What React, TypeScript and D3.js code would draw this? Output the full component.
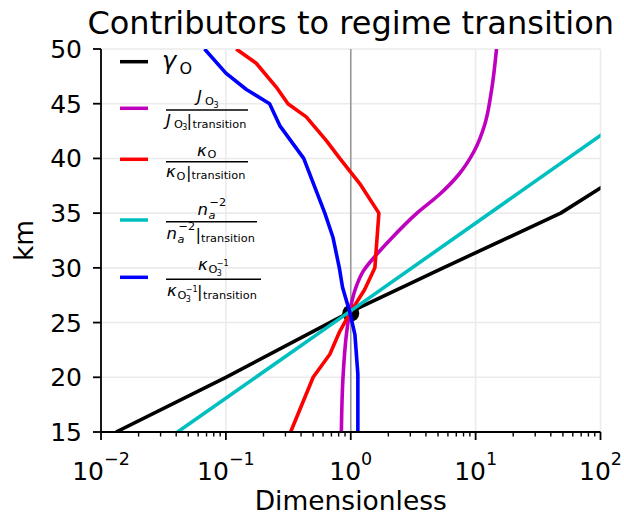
import React from "react";
import * as d3 from "d3";

// ---- data (km, dimensionless value) ----
const blackKm = [15, 20, 26, 30, 35, 37.3, 40];
const blackVal = [0.0132, 0.1, 1.0, 5.5, 48, 100, 230];

const magentaKm = [15, 20, 24, 26, 28, 29.7, 31.25, 32.5, 35, 36.7, 38.6, 40.7, 43.2, 46.2, 50];
const magentaVal = [0.841, 0.867, 0.925, 0.982, 1.084, 1.26, 1.62, 2.04, 3.39, 5.13, 7.41, 9.77, 11.9, 13.4, 14.7];

const redKm = [15, 20, 22.1, 24.2, 26, 28, 30, 35, 37.7, 40, 41.6, 43.8, 45, 46.5, 48.7, 50];
const redVal = [0.33, 0.5, 0.68, 0.817, 1.0, 1.29, 1.56, 1.68, 1.18, 0.817, 0.64, 0.44, 0.314, 0.254, 0.175, 0.121];

const cyanKm = [15, 26, 42.1, 46];
const cyanVal = [0.041, 0.98, 100, 310];

const blueKm = [15, 20.3, 23.9, 26, 28.2, 30, 32.8, 35, 40, 43, 45, 46.3, 47.8, 50];
const blueVal = [1.14, 1.14, 1.08, 0.98, 0.86, 0.81, 0.72, 0.62, 0.42, 0.27, 0.224, 0.146, 0.1, 0.0675];

const transitionKm = 25.85;
const transitionVal = 1.0;

const yTicks = [15, 20, 25, 30, 35, 40, 45, 50];
const xDecades = [-2, -1, 0, 1, 2];

const W = 624;
const H = 517;
const X0 = 101;
const X1 = 600.5;
const Y0 = 49;
const Y1 = 432;
const FONT = "DejaVu Sans";

const x = d3.scaleLog().domain([1e-2, 1e2]).range([X0, X1]);
const y = d3.scaleLinear().domain([15, 50]).range([Y1, Y0]);

function makePath(km: number[], val: number[], smooth: boolean) {
  const pts: [number, number][] = km.map((k, i) => [val[i], k]);
  const gen = d3
    .line<[number, number]>()
    .x((d) => x(d[0]))
    .y((d) => y(d[1]))
    .curve(smooth ? d3.curveMonotoneY : d3.curveLinear);
  return gen(pts) || "";
}

const series = [
  { km: blackKm, val: blackVal, color: "#000000", smooth: false },
  { km: magentaKm, val: magentaVal, color: "#bf00bf", smooth: true },
  { km: redKm, val: redVal, color: "#ff0000", smooth: false },
  { km: cyanKm, val: cyanVal, color: "#00bfbf", smooth: false },
  { km: blueKm, val: blueVal, color: "#0000ff", smooth: false },
];

const legendColors = ["#000000", "#bf00bf", "#ff0000", "#00bfbf", "#0000ff"];
const legendY = [61.7, 108.3, 159.3, 220, 277.3];

type P = { x: number; y: number; s: number; t: string; it?: boolean };
const Tx = ({ x, y, s, t, it }: P) => (
  <text x={x} y={y} fontSize={s} fontFamily={FONT} fontStyle={it ? "italic" : "normal"} fill="#000">
    {t}
  </text>
);

const Bar = ({ y, x1, x2 }: { y: number; x1: number; x2: number }) => (
  <line x1={x1} x2={x2} y1={y} y2={y} stroke="#000" strokeWidth={1.4} />
);

function Legend() {
  const M = 16.5;
  const S = 11.3;
  const SS = 8;
  return (
    <g>
      {legendColors.map((c, i) => (
        <line key={i} x1={120} x2={148} y1={legendY[i]} y2={legendY[i]} stroke={c} strokeWidth={3.5} />
      ))}
      {/* gamma_O */}
      <Tx x={162} y={69} s={24} t="γ" it />
      <Tx x={179.5} y={74} s={16} t="O" />

      {/* J_O3 / J_O3|transition */}
      <Tx x={197} y={102} s={M} t="J" it />
      <Tx x={205} y={105} s={S} t="O" />
      <Tx x={213.5} y={107.5} s={SS} t="3" />
      <Bar y={110} x1={166} x2={248} />
      <Tx x={166} y={125.5} s={M} t="J" it />
      <Tx x={174} y={128} s={S} t="O" />
      <Tx x={182.3} y={130} s={SS} t="3" />
      <Tx x={186.5} y={126} s={M} t="|" />
      <Tx x={192.5} y={127.5} s={S} t="transition" />

      {/* kappa_O / kappa_O|transition */}
      <Tx x={197} y={155.5} s={M} t="κ" it />
      <Tx x={207.5} y={158} s={S} t="O" />
      <Bar y={161.7} x1={166} x2={248} />
      <Tx x={166} y={177} s={M} t="κ" it />
      <Tx x={176.5} y={179.5} s={S} t="O" />
      <Tx x={186} y={178} s={M} t="|" />
      <Tx x={191.5} y={179} s={S} t="transition" />

      {/* n_a^-2 / n_a^-2|transition */}
      <Tx x={197.5} y={215} s={M} t="n" it />
      <Tx x={208.5} y={219} s={S} t="a" it />
      <Tx x={209.5} y={206} s={S} t="−2" />
      <Bar y={221.7} x1={166} x2={257} />
      <Tx x={166.5} y={238.5} s={M} t="n" it />
      <Tx x={177.5} y={243} s={S} t="a" it />
      <Tx x={178.5} y={230} s={S} t="−2" />
      <Tx x={195.5} y={239.5} s={M} t="|" />
      <Tx x={201} y={241.5} s={S} t="transition" />

      {/* kappa_{O3^-1} */}
      <Tx x={198} y={270} s={M} t="κ" it />
      <Tx x={208.5} y={273} s={S} t="O" />
      <Tx x={216.8} y={275.5} s={SS} t="3" />
      <Tx x={216.8} y={266} s={SS} t="−1" />
      <Bar y={279.3} x1={166} x2={261} />
      <Tx x={167} y={296} s={M} t="κ" it />
      <Tx x={177.5} y={299} s={S} t="O" />
      <Tx x={185.8} y={301.5} s={SS} t="3" />
      <Tx x={185.8} y={292} s={SS} t="−1" />
      <Tx x={197} y={297} s={M} t="|" />
      <Tx x={203} y={298.5} s={S} t="transition" />
    </g>
  );
}

export default function App() {
  const minor: number[] = [];
  for (let d = -2; d < 2; d++) {
    for (let m = 2; m <= 9; m++) minor.push(m * Math.pow(10, d));
  }
  return (
    <svg
      width={W}
      height={H}
      viewBox={`0 0 ${W} ${H}`}
      style={{ position: "absolute", left: 0, top: 0, background: "#fff" }}
    >
      <defs>
        <clipPath id="plot">
          <rect x={X0} y={Y0} width={X1 - X0} height={Y1 - Y0} />
        </clipPath>
      </defs>
      <rect x={0} y={0} width={W} height={H} fill="#fff" />
      {/* grid */}
      {yTicks.map((t) => (
        <line key={"gy" + t} x1={X0} x2={X1} y1={y(t)} y2={y(t)} stroke="#ebebeb" strokeWidth={1.6} />
      ))}
      {xDecades.map((d) => (
        <line key={"gx" + d} x1={x(Math.pow(10, d))} x2={x(Math.pow(10, d))} y1={Y0} y2={Y1} stroke="#ebebeb" strokeWidth={1.6} />
      ))}
      {/* vertical reference at 1 */}
      <line x1={x(1)} x2={x(1)} y1={Y0} y2={Y1} stroke="#999999" strokeWidth={1.6} />
      <g clipPath="url(#plot)">
        <circle cx={x(transitionVal)} cy={y(transitionKm)} r={8.5} fill="#000" />
        {series.map((s, i) => (
          <path
            key={i}
            d={makePath(s.km, s.val, s.smooth)}
            fill="none"
            stroke={s.color}
            strokeWidth={3.6}
            strokeLinejoin="round"
          />
        ))}
      </g>
      {/* axes spines */}
      <line x1={X0} x2={X0} y1={Y0} y2={Y1} stroke="#000" strokeWidth={1.8} />
      <line x1={X0} x2={X1} y1={Y1} y2={Y1} stroke="#000" strokeWidth={1.8} />
      {/* y ticks */}
      {yTicks.map((t) => (
        <g key={"yt" + t}>
          <line x1={X0 - 8} x2={X0} y1={y(t)} y2={y(t)} stroke="#000" strokeWidth={1.8} />
          <text x={X0 - 19} y={y(t)} dy="0.36em" textAnchor="end" fontSize={25} fontFamily={FONT} fill="#000">
            {t}
          </text>
        </g>
      ))}
      {/* x ticks */}
      {minor.map((v, i) => (
        <line key={"mx" + i} x1={x(v)} x2={x(v)} y1={Y1} y2={Y1 + 4.5} stroke="#000" strokeWidth={1.4} />
      ))}
      {xDecades.map((d) => {
        const px = x(Math.pow(10, d));
        const exp = d < 0 ? "−" + Math.abs(d) : String(d);
        const w10 = 2 * 0.636 * 25;
        const wexp = (d < 0 ? 0.838 + 0.636 : 0.636) * 17.5;
        const left = px - (w10 + wexp) / 2;
        return (
          <g key={"xt" + d}>
            <line x1={px} x2={px} y1={Y1} y2={Y1 + 8} stroke="#000" strokeWidth={1.8} />
            <text x={left} y={480} fontSize={25} fontFamily={FONT} fill="#000">
              10
            </text>
            <text x={left + w10} y={465} fontSize={17.5} fontFamily={FONT} fill="#000">
              {exp}
            </text>
          </g>
        );
      })}
      {/* labels */}
      <text x={(X0 + X1) / 2} y={510} textAnchor="middle" fontSize={26.5} fontFamily={FONT} fill="#000">
        Dimensionless
      </text>
      <text
        transform={`translate(33, ${(Y0 + Y1) / 2}) rotate(-90)`}
        textAnchor="middle"
        fontSize={26.5}
        fontFamily={FONT}
        fill="#000"
      >
        km
      </text>
      <text x={(X0 + X1) / 2} y={34} textAnchor="middle" fontSize={32} fontFamily={FONT} fill="#000">
        Contributors to regime transition
      </text>
      <Legend />
    </svg>
  );
}
